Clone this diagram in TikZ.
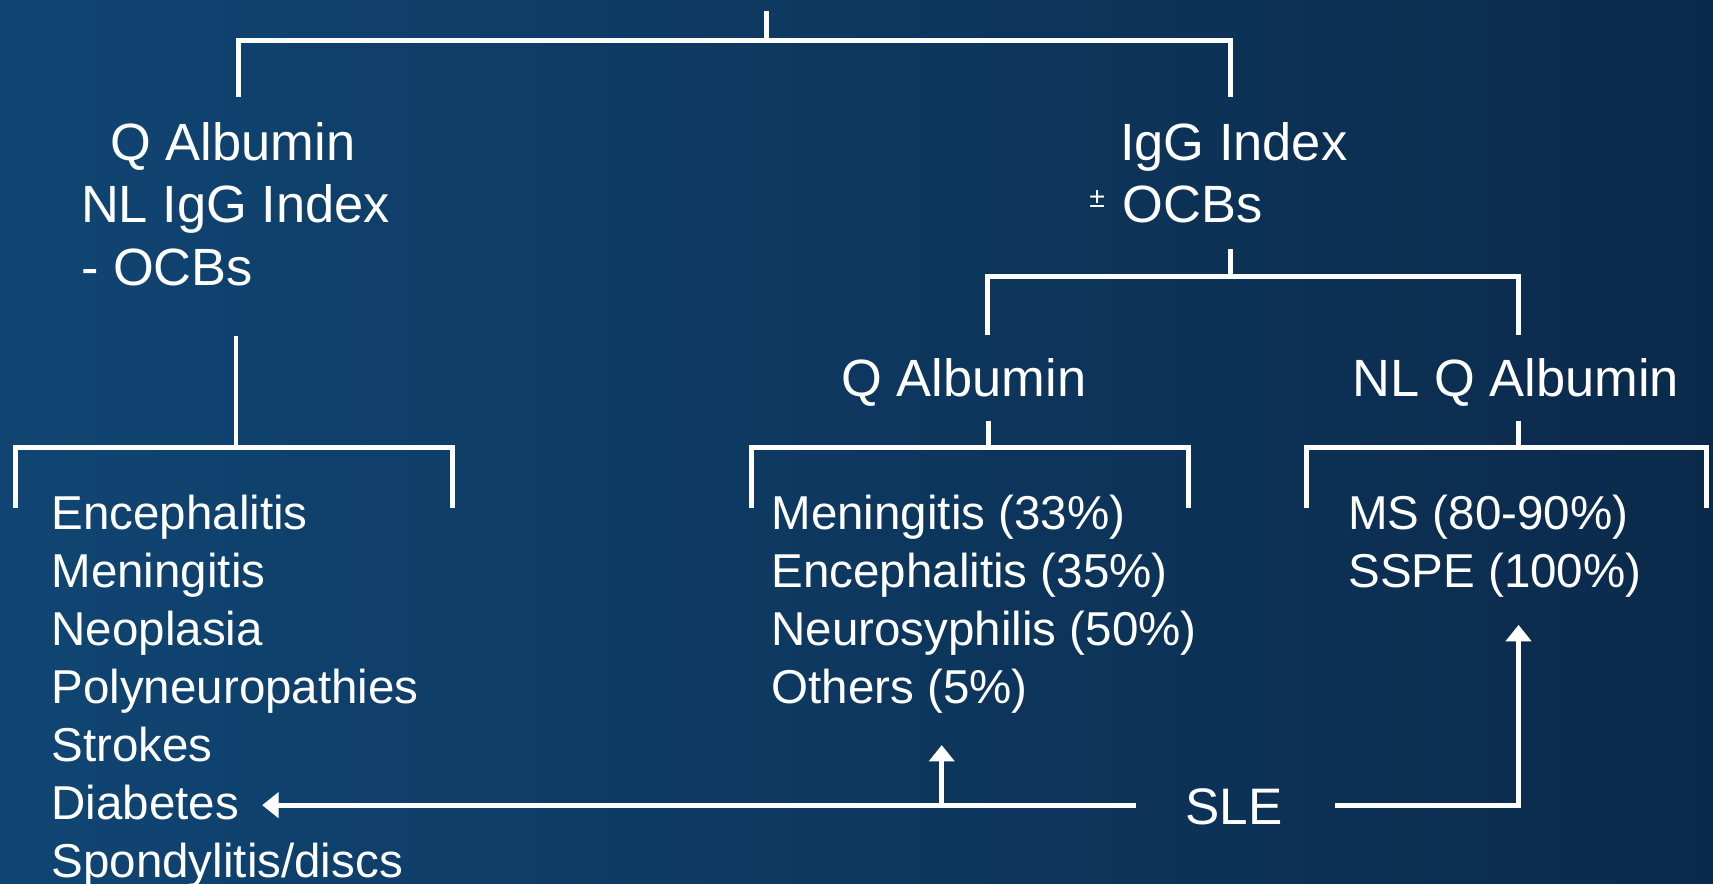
\documentclass[tikz,border=0pt]{standalone}
\usepackage{fontspec}
\setmainfont{Liberation Sans}
\usetikzlibrary{arrows.meta}
\definecolor{bgL}{RGB}{16,69,115}
\definecolor{bgR}{RGB}{11,42,75}
\begin{document}
\begin{tikzpicture}[x=1pt,y=-1pt,
  lbl/.style={text=white, inner sep=0pt, anchor=base west, font=\fontsize{48}{58}\selectfont},
  item/.style={text=white, inner sep=0pt, anchor=base west, font=\fontsize{43.5}{53}\selectfont},
  sletext/.style={text=white, inner sep=0pt, anchor=base west, font=\fontsize{47}{56}\selectfont},
  conn/.style={draw=white, line width=4.5pt, line join=miter},
  arr/.style={conn, -{Triangle[length=15pt,width=23pt]}}]
\useasboundingbox (0,0) rectangle (1568,809);
\shade[left color=bgL, right color=bgR] (0,0) rectangle (1568,809);

% ---- header texts
\node[lbl] (qaL) at (101,147) {Q Albumin};
\node[lbl] (nligg) at (74,204) {NL IgG Index};
\node[lbl] (nocb) at (74,261) {- OCBs};
\node[lbl] (igg) at (1025,147) {IgG Index};
\node[lbl] (pmocb) at (997,204) {\raisebox{14pt}{\fontsize{26}{26}\selectfont ±}\hspace{16pt}OCBs};
\node[lbl] (qaM) at (770,363) {Q Albumin};
\node[lbl] (nlqa) at (1238,363) {NL Q Albumin};

% ---- lists
\foreach \t [count=\i from 0] in {Encephalitis,Meningitis,Neoplasia,Polyneuropathies,Strokes,Diabetes,Spondylitis/discs}
  \node[item] (l\i) at (47,485+53*\i) {\t};
\foreach \t [count=\i from 0] in {Meningitis (33\%),Encephalitis (35\%),Neurosyphilis (50\%),Others (5\%)}
  \node[item] (m\i) at (706,485+53*\i) {\t};
\foreach \t [count=\i from 0] in {MS (80-90\%),SSPE (100\%)}
  \node[item] (r\i) at (1234,485+53*\i) {\t};
\node[sletext] (sle) at (1085,755) {SLE};

% ---- junction coordinates
\coordinate (rootT) at (702,10);
\coordinate (rootB) at (702,37);
\coordinate (topL) at (218,37);
\coordinate (topR) at (1126,37);
\coordinate (topLd) at (218,89);
\coordinate (topRd) at (1126,89);

\coordinate (lsT) at (216,308);
\coordinate (lsB) at (216,410);
\coordinate (lbL) at (14,410);
\coordinate (lbR) at (414,410);
\coordinate (lbLd) at (14,465);
\coordinate (lbRd) at (414,465);

\coordinate (rsT) at (1126,228);
\coordinate (rsB) at (1126,253);
\coordinate (rbL) at (904,253);
\coordinate (rbR) at (1390,253);
\coordinate (rbLd) at (904,307);
\coordinate (rbRd) at (1390,307);

\coordinate (msT) at (905,385);
\coordinate (msB) at (905,410);
\coordinate (mbL) at (688,410);
\coordinate (mbR) at (1088,410);
\coordinate (mbLd) at (688,465);
\coordinate (mbRd) at (1088,465);

\coordinate (nsT) at (1390,385);
\coordinate (nsB) at (1390,410);
\coordinate (nbL) at (1196,410);
\coordinate (nbR) at (1562,410);
\coordinate (nbLd) at (1196,465);
\coordinate (nbRd) at (1562,465);

\coordinate (sleL) at (1040,737);
\coordinate (diabTip) at (240,737);
\coordinate (upJ) at (862,737);
\coordinate (upTip) at (862,682);
\coordinate (sleR) at (1222,737);
\coordinate (corner) at (1390,737);
\coordinate (msTip) at (1390,572);

% ---- connectors
\draw[conn] (rootT) -- (rootB);
\draw[conn] (topLd) -- (topL) -- (topR) -- (topRd);
\draw[conn] (lsT) -- (lsB);
\draw[conn] (lbLd) -- (lbL) -- (lbR) -- (lbRd);
\draw[conn] (rsT) -- (rsB);
\draw[conn] (rbLd) -- (rbL) -- (rbR) -- (rbRd);
\draw[conn] (msT) -- (msB);
\draw[conn] (mbLd) -- (mbL) -- (mbR) -- (mbRd);
\draw[conn] (nsT) -- (nsB);
\draw[conn] (nbLd) -- (nbL) -- (nbR) -- (nbRd);

\draw[arr] (sleL) -- (diabTip);
\draw[arr] (upJ) -- (upTip);
\draw[arr] (sleR) -- (corner) -- (msTip);
\end{tikzpicture}
\end{document}
